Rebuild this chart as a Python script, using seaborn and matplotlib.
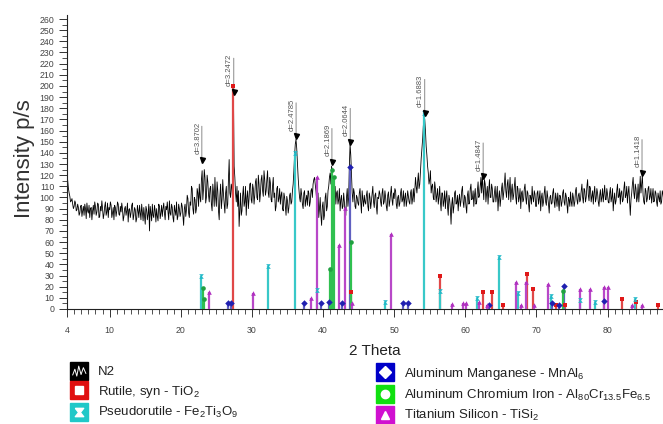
import numpy as np
import pandas as pd
import matplotlib
matplotlib.use("Agg")
import matplotlib.pyplot as plt
from matplotlib.lines import Line2D
from matplotlib.path import Path
from matplotlib.legend_handler import HandlerTuple
from matplotlib.ticker import MultipleLocator, FixedLocator
import seaborn as sns

# measured scan N2: counts at 4.0, 4.2, ... 88.0
counts_even = [
    122, 108, 101, 97, 94, 92, 95, 89, 91, 86,
    93, 88, 84, 90, 95, 86, 82, 91, 88, 85,
    92, 87, 94, 83, 88, 90, 85, 96, 87, 82,
    89, 93, 86, 80, 91, 88, 94, 84, 87, 90,
    83, 92, 88, 78, 90, 86, 95, 84, 89, 81,
    88, 93, 80, 87, 91, 76, 89, 85, 70, 86,
    94, 82, 88, 90, 79, 92, 86, 83, 95, 80,
    89, 87, 97, 84, 91, 78, 88, 96, 83, 90,
    86, 92, 75, 94, 89, 99, 82, 93, 108, 85,
    98, 90, 104, 112, 96, 124, 108, 118, 100, 114,
    96, 110, 88, 104, 118, 92, 106, 80, 112, 98,
    103, 86, 110, 94, 134, 100, 108, 195, 118, 96,
    92, 74, 104, 88, 110, 96, 84, 106, 99, 113,
    95, 108, 102, 117, 98, 112, 104, 120, 101, 116,
    106, 124, 100, 113, 96, 118, 104, 92, 110, 99,
    94, 105, 88, 100, 84, 97, 91, 104, 96, 112,
    138, 152, 130, 108, 96, 102, 90, 106, 98, 93,
    104, 96, 108, 112, 118, 106, 95, 82, 100, 75,
    96, 84, 104, 92, 110, 122, 128, 114, 100, 94,
    106, 98, 88, 102, 92, 96, 84, 108, 100, 148,
    120, 96, 104, 90, 100, 93, 108, 86, 98, 102,
    94, 106, 88, 100, 97, 110, 91, 104, 85, 99,
    103, 92, 108, 96, 100, 88, 105, 97, 110, 93,
    99, 106, 90, 102, 95, 108, 98, 92, 104, 97,
    101, 94, 107, 99, 96, 118, 104, 122, 112, 135,
    152, 172, 160, 138, 122, 116, 104, 112, 98, 108,
    102, 94, 110, 88, 104, 97, 90, 106, 84, 98,
    76, 100, 92, 106, 95, 88, 103, 97, 110, 91,
    100, 86, 106, 95, 112, 99, 92, 108, 96, 114,
    102, 118, 120, 98, 112, 104, 94, 116, 100, 108,
    96, 110, 102, 88, 106, 99, 113, 104, 122, 100,
    116, 107, 96, 112, 102, 118, 94, 108, 100, 90,
    106, 98, 112, 94, 104, 87, 100, 110, 96, 103,
    92, 106, 99, 88, 104, 96, 110, 93, 100, 86,
    102, 95, 108, 91, 99, 104, 88, 100, 96, 107,
    93, 101, 86, 98, 105, 92, 100, 96, 109, 94,
    104, 98, 112, 95, 106, 100, 116, 97, 108, 101,
    94, 110, 99, 104, 92, 107, 100, 96, 111, 98,
    103, 95, 109, 100, 88, 104, 97, 112, 101, 94,
    106, 98, 114, 102, 95, 110, 84, 104, 118, 99,
    108, 100, 96, 119, 112, 102, 94, 106, 99, 110,
    101, 95, 108, 97, 104, 92, 100, 106, 96, 103,
    99,
]
# counts at 4.1, 4.3, ... 87.9
counts_odd = [
    115, 104, 96, 99, 90, 97, 88, 94, 84, 92,
    83, 92, 94, 81, 88, 93, 90, 80, 93, 96,
    84, 95, 82, 92, 97, 81, 92, 84, 95, 91,
    96, 82, 91, 93, 83, 96, 85, 92, 95, 79,
    90, 84, 95, 89, 82, 93, 80, 91, 78, 93,
    82, 86, 94, 79, 84, 92, 80, 94, 92, 79,
    84, 93, 78, 83, 94, 81, 93, 90, 86, 92,
    96, 80, 86, 94, 82, 93, 84, 80, 94, 83,
    95, 84, 90, 83, 102, 86, 96, 110, 90, 100,
    86, 108, 92, 100, 116, 98, 125, 95, 120, 102,
    108, 94, 112, 92, 100, 114, 88, 102, 90, 116,
    94, 104, 90, 116, 104, 112, 96, 128, 104, 110,
    106, 90, 84, 102, 92, 110, 100, 90, 112, 98,
    112, 94, 114, 100, 120, 96, 116, 106, 124, 102,
    116, 104, 118, 98, 110, 100, 88, 108, 96, 108,
    102, 90, 104, 92, 101, 86, 102, 94, 106, 124,
    148, 144, 118, 100, 108, 94, 104, 92, 102, 106,
    92, 106, 100, 116, 112, 98, 104, 90, 84, 92,
    80, 100, 88, 106, 118, 112, 124, 106, 110, 104,
    94, 108, 98, 90, 104, 86, 100, 92, 128, 138,
    104, 108, 92, 102, 95, 104, 96, 106, 92, 96,
    102, 92, 104, 90, 104, 96, 102, 92, 100, 106,
    96, 104, 94, 106, 92, 102, 92, 104, 98, 104,
    108, 94, 100, 92, 104, 96, 106, 100, 92, 106,
    96, 104, 94, 108, 106, 110, 114, 108, 124, 144,
    164, 170, 146, 128, 112, 124, 110, 100, 114, 96,
    108, 100, 96, 104, 92, 106, 100, 92, 102, 90,
    94, 86, 104, 94, 102, 98, 92, 106, 96, 102,
    92, 102, 94, 108, 98, 106, 102, 94, 106, 100,
    110, 104, 108, 116, 96, 110, 106, 100, 112, 96,
    104, 96, 110, 100, 92, 108, 98, 112, 106, 112,
    98, 118, 106, 98, 110, 100, 110, 96, 108, 104,
    96, 108, 100, 106, 94, 102, 94, 100, 106, 92,
    104, 94, 106, 100, 92, 104, 96, 106, 94, 100,
    94, 104, 96, 104, 92, 96, 102, 92, 104, 96,
    104, 94, 100, 92, 96, 104, 92, 106, 98, 102,
    96, 106, 100, 108, 96, 110, 102, 110, 96, 106,
    104, 96, 108, 96, 102, 96, 108, 104, 98, 108,
    96, 104, 96, 108, 98, 94, 106, 100, 108, 104,
    96, 108, 100, 110, 104, 96, 98, 112, 104, 112,
    96, 112, 106, 104, 120, 96, 108, 96, 108, 98,
    108, 102, 96, 106, 96, 104, 96, 94, 106, 98,
]
intensity = []
for a, b in zip(counts_even, counts_odd):
    intensity += [a, b]
intensity.append(counts_even[-1])
two_theta = np.linspace(4, 88, len(intensity))

# reference patterns (stick positions / heights)
rutile_pos = [27.4, 44.0, 56.5, 62.5, 63.8, 65.3, 68.7, 69.5, 72.7, 74.0, 82.0, 84.0, 87.1]
rutile_int = [200, 15, 30, 15.5, 15.5, 4, 31, 18, 4, 4, 9, 6, 4]
pseudo_pos = [22.9, 32.2, 36.1, 39.2, 48.7, 54.2, 56.5, 61.7, 64.8, 67.4, 72.0, 76.2, 78.2, 83.8]
pseudo_int = [30, 39, 140, 17, 6, 176, 16, 10, 47, 14.6, 12, 8, 6, 8.7]
mnal_pos = [26.7, 27.0, 37.3, 39.7, 40.8, 42.6, 43.8, 51.3, 51.9, 63.4, 72.2, 73.2, 73.9, 79.5]
mnal_int = [5, 5, 5, 5, 6, 5, 127, 5, 5, 4, 5, 4, 21, 7]
alcrfe_pos = [23.1, 23.3, 41.0, 41.3, 41.5, 43.9, 73.8]
alcrfe_int = [19, 9, 36, 125, 118, 60, 16]
tisi_pos = [23.9, 30.1, 38.3, 39.1, 42.2, 43.1, 44.1, 49.6, 58.2, 59.7, 60.1, 61.9, 63.0,
            67.1, 67.9, 68.5, 69.7, 71.7, 76.2, 77.6, 79.5, 80.0, 83.5, 84.9]
tisi_int = [15.5, 14, 10, 118, 57, 91, 5, 67, 4.5, 5, 5, 6, 4,
            24.5, 4, 24.5, 4, 22, 18, 18, 20, 20, 4, 4]

# peak list
peak_pos = [22.96, 27.45, 36.21, 41.25, 43.82, 54.30, 62.51, 84.85]
peak_height = [134, 195, 155, 132, 150, 176, 119, 122]
peak_labels = ["d=3.8702", "d=3.2472", "d=2.4785", "d=2.1869",
               "d=2.0644", "d=1.6883", "d=1.4847", "d=1.1418"]

hourglass = Path([(-1, 1), (1, 1), (0.2, 0), (1, -1), (-1, -1), (-0.2, 0), (-1, 1)])
zigzag = Path([(-0.9, -0.5), (-0.6, 0.3), (-0.35, -0.6), (-0.1, 0.7),
               (0.2, -0.4), (0.5, 0.5), (0.85, -0.3)])

phases = [
    # label, pos, int, stick colour, marker colour, icon colour, marker
    ("Rutile, syn - TiO$_2$", rutile_pos, rutile_int, "#e04848", "#e01818", "#e01010", "s"),
    ("Pseudorutile - Fe$_2$Ti$_3$O$_9$", pseudo_pos, pseudo_int, "#38c8c8", "#20b8c8", "#20c8c8", hourglass),
    ("Aluminum Manganese - MnAl$_6$", mnal_pos, mnal_int, "#6060c0", "#2020b0", "#0000c8", "D"),
    ("Aluminum Chromium Iron - Al$_{80}$Cr$_{13.5}$Fe$_{6.5}$", alcrfe_pos, alcrfe_int, "#30c050", "#20a040", "#10e010", "o"),
    ("Titanium Silicon - TiSi$_2$", tisi_pos, tisi_int, "#b848c8", "#b030c0", "#d010d0", "^"),
]

sns.set_style("ticks")
plt.rcParams["font.family"] = ["Liberation Sans", "DejaVu Sans"]
plt.rcParams["mathtext.fontset"] = "custom"
plt.rcParams["mathtext.rm"] = "Liberation Sans"
plt.rcParams["mathtext.it"] = "Liberation Sans"

fig = plt.figure(figsize=(6.63, 4.24), dpi=100)
ax = fig.add_axes([67 / 663, 115 / 424, 596 / 663, 294 / 424])

df = pd.DataFrame({"two_theta": two_theta, "counts": intensity})
sns.lineplot(data=df, x="two_theta", y="counts", ax=ax, color="black", lw=0.6, zorder=2)

for label, pos, ints, lc, mc, ic, m in phases:
    ax.vlines(pos, 0, ints, colors=lc, lw=1.6, zorder=3)
    ax.scatter(pos, ints, marker=m, s=11, color=mc, linewidths=0, zorder=4)

for x, h, lab in zip(peak_pos, peak_height, peak_labels):
    ax.plot([x], [h], marker="v", color="black", ms=3.6, zorder=5)
    ax.annotate("", xy=(x, h), xytext=(0, 26), textcoords="offset points",
                arrowprops=dict(arrowstyle="-", color="#777777", lw=0.6))
    ax.annotate(lab, xy=(x, h), xytext=(-0.5, 4), textcoords="offset points",
                rotation=90, ha="right", va="bottom", fontsize=5.5, color="#555555")

ax.set_xlim(4, 87.8)
ax.set_ylim(0, 263.6)
ax.xaxis.set_major_locator(FixedLocator([4, 10, 20, 30, 40, 50, 60, 70, 80]))
ax.xaxis.set_minor_locator(MultipleLocator(1))
ax.yaxis.set_major_locator(MultipleLocator(10))
ax.yaxis.set_minor_locator(MultipleLocator(5))
ax.tick_params(axis="both", which="major", labelsize=6.3, labelcolor="#444444",
               color="#333333", length=6, width=0.7, direction="out")
ax.tick_params(axis="both", which="minor", color="#333333", length=3.5, width=0.6)
ax.tick_params(axis="x", pad=6)
ax.tick_params(axis="y", pad=3)
sns.despine(ax=ax)
for s in ["left", "bottom"]:
    ax.spines[s].set_color("#222222")
    ax.spines[s].set_linewidth(0.8)

ax.set_ylabel("Intensity p/s", fontsize=16, color="#333333")
ax.yaxis.set_label_coords(-0.054, 0.51)
ax.set_xlabel("2 Theta", fontsize=11, color="#222222")
ax.xaxis.set_label_coords(0.517, -0.118)

# legend
def icon(face, mark, size=6):
    box = Line2D([], [], ls="", marker="s", ms=13.5, mfc=face, mec=face)
    if mark is zigzag:
        inner = Line2D([], [], ls="", marker=mark, ms=10, mfc="none", mec="white", mew=0.7)
    else:
        inner = Line2D([], [], ls="", marker=mark, ms=size, mfc="white", mec="white")
    return (box, inner)

handles = [icon("black", zigzag)] + [icon(p[5], p[6]) for p in phases]
labels = ["N2"] + [p[0] for p in phases]

leg_kw = dict(loc="upper left", frameon=False, fontsize=9.5, borderpad=0, borderaxespad=0,
              handlelength=1.25, handletextpad=0.8, labelspacing=0.42,
              handler_map={tuple: HandlerTuple(ndivide=1)}, labelcolor="#222222")
leg1 = fig.legend(handles[:3], labels[:3], bbox_to_anchor=(71 / 663, (424 - 366) / 424), **leg_kw)
leg2 = fig.legend(handles[3:], labels[3:], bbox_to_anchor=(377 / 663, (424 - 366) / 424), **leg_kw)

fig.savefig("out.png", dpi=100)
